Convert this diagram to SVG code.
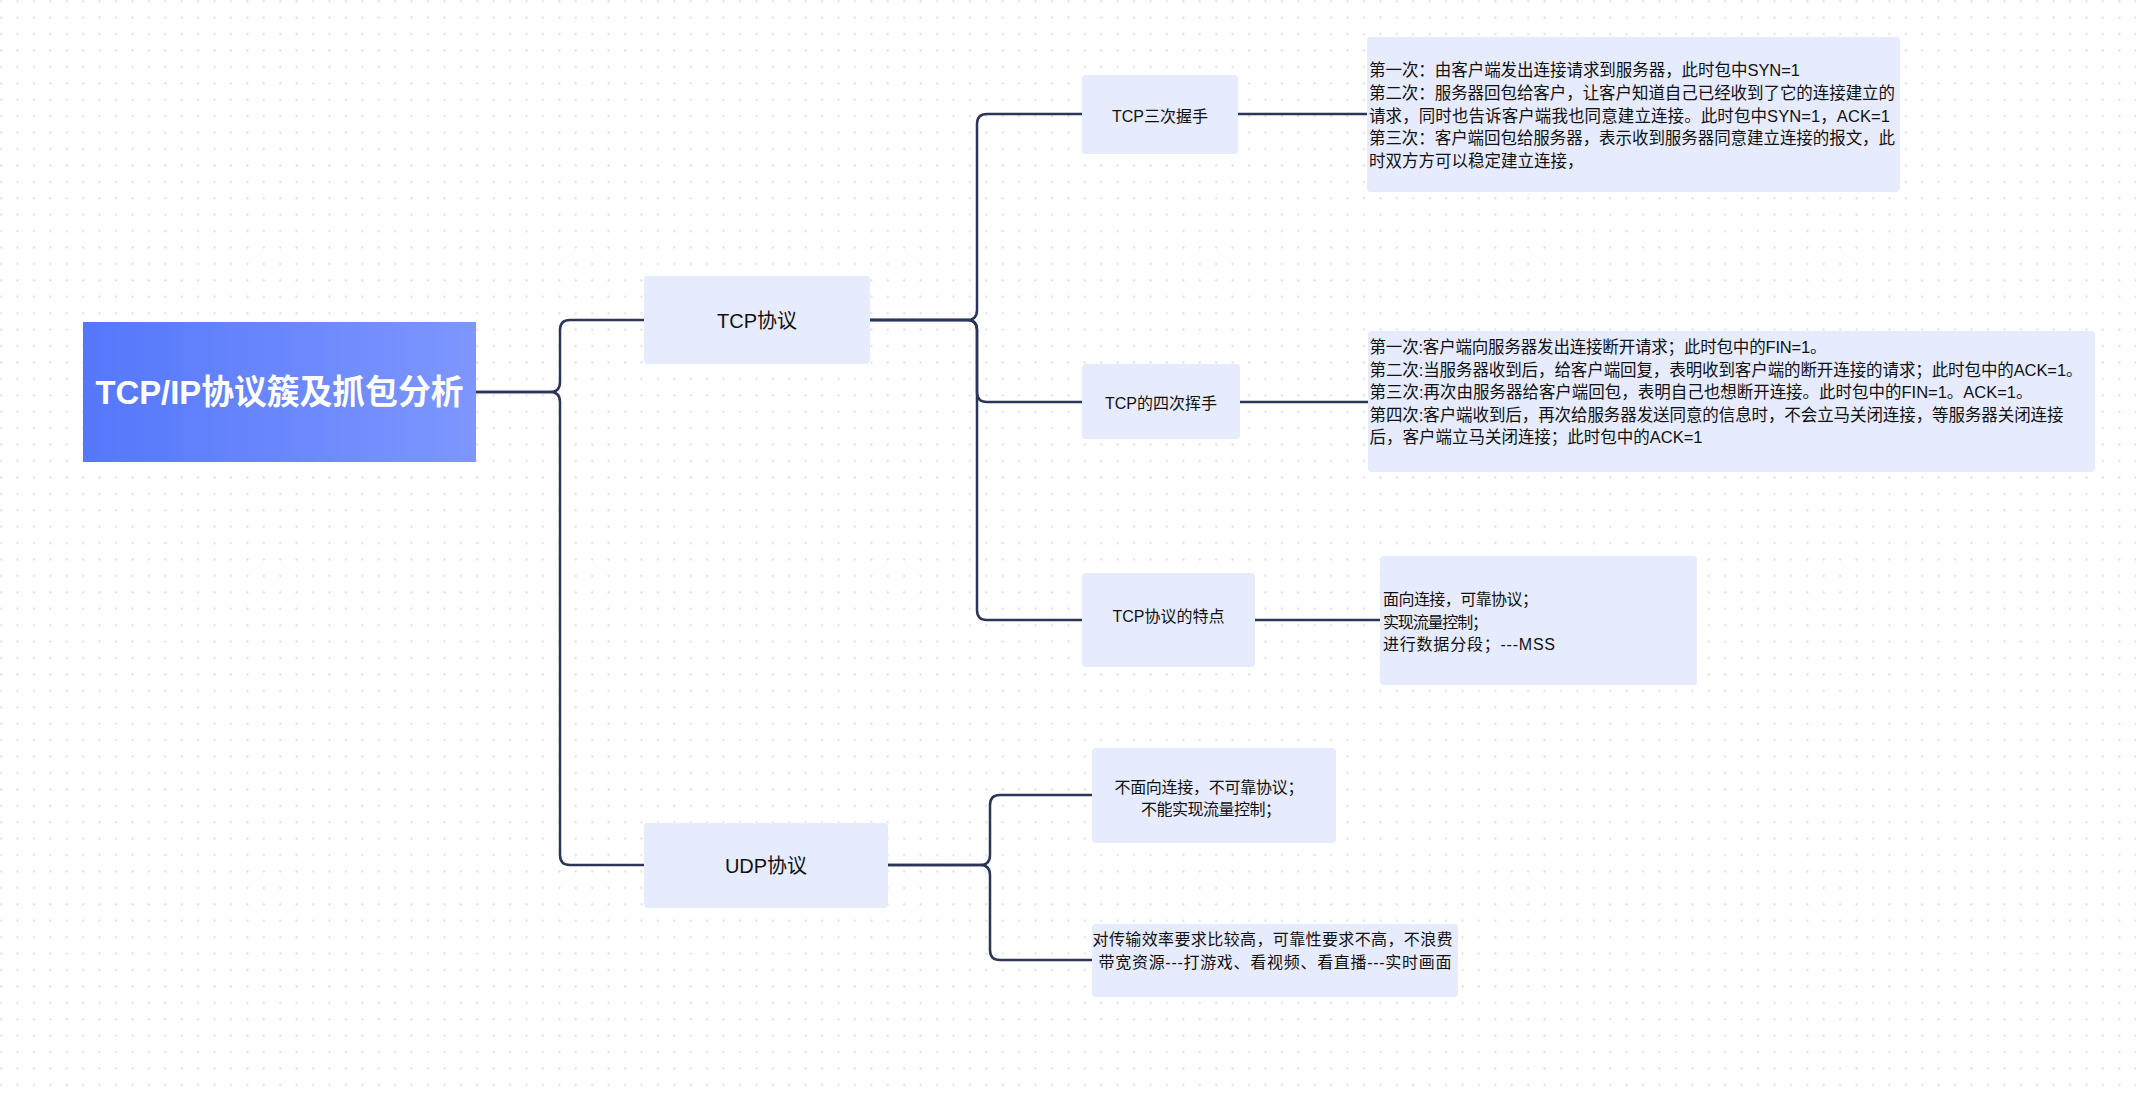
<svg xmlns="http://www.w3.org/2000/svg" width="2136" height="1094" viewBox="0 0 2136 1094">
<style>
.lbl{font-family:"Liberation Sans","Noto Sans CJK SC",sans-serif;fill:#111;}
.node{fill:#e6ebfd;}
.mid{text-anchor:middle;}
.conn path{fill:none;stroke:#2b3558;stroke-width:2.5;}
</style>
<defs>
<pattern id="dots" patternUnits="userSpaceOnUse" x="-7.11" y="-6.91" width="16.42" height="16.42">
<circle cx="8.21" cy="8.21" r="1.1" fill="#dedede"/>
</pattern>
<linearGradient id="rootg" x1="0" y1="0" x2="1" y2="0">
<stop offset="0" stop-color="#5477fb"/>
<stop offset="1" stop-color="#7e97fe"/>
</linearGradient>
</defs>
<rect x="0" y="0" width="2136" height="1094" fill="#ffffff"/>
<rect x="0" y="0" width="2136" height="1094" fill="url(#dots)"/>

<g class="conn" id="connectors">
<path d="M476,392 H550 Q560,392 560,382 V330 Q560,320 570,320 H644"/>
<path d="M476,392 H550 Q560,392 560,402 V855 Q560,865 570,865 H644"/>
<path d="M870,320 H967 Q977,320 977,310 V124 Q977,114 987,114 H1082"/>
<path d="M870,320 H967 Q977,320 977,330 V392 Q977,402 987,402 H1082"/>
<path d="M870,320 H967 Q977,320 977,330 V610 Q977,620 987,620 H1082"/>
<path d="M888,865 H980 Q990,865 990,855 V805 Q990,795 1000,795 H1092"/>
<path d="M888,865 H980 Q990,865 990,875 V950 Q990,960 1000,960 H1092"/>
<path d="M1238,114 H1367"/>
<path d="M1240,402 H1368"/>
<path d="M1255,620 H1380"/>
</g>

<g id="root">
<rect x="83" y="322" width="393" height="140" fill="url(#rootg)"/>
<text x="279.5" y="404" class="mid" font-family="'Liberation Sans','Noto Sans CJK SC',sans-serif" font-weight="bold" font-size="34" fill="#ffffff" textLength="368" lengthAdjust="spacingAndGlyphs">TCP/IP协议簇及抓包分析</text>
</g>

<g id="tcp">
<rect class="node" x="644" y="276" width="226" height="88" rx="4"/>
<text class="lbl mid" x="757" y="328" font-size="20">TCP协议</text>
</g>

<g id="udp">
<rect class="node" x="644" y="823" width="244" height="85" rx="4"/>
<text class="lbl mid" x="766" y="873" font-size="20">UDP协议</text>
</g>

<g id="tcp-3way">
<rect class="node" x="1082" y="75" width="156" height="79" rx="4"/>
<text class="lbl mid" x="1160" y="121.5" font-size="16">TCP三次握手</text>
</g>

<g id="tcp-4way">
<rect class="node" x="1082" y="364" width="158" height="75" rx="4"/>
<text class="lbl mid" x="1161" y="408.5" font-size="16">TCP的四次挥手</text>
</g>

<g id="tcp-feature">
<rect class="node" x="1082" y="573" width="173" height="94" rx="4"/>
<text class="lbl mid" x="1168.5" y="621.5" font-size="16">TCP协议的特点</text>
</g>

<g id="detail-3way">
<rect class="node" x="1367" y="37" width="533" height="155" rx="4"/>
<text class="lbl" font-size="16.5">
<tspan x="1369" y="76.3" textLength="431" lengthAdjust="spacing">第一次：由客户端发出连接请求到服务器，此时包中SYN=1</tspan>
<tspan x="1369" y="98.9" textLength="526" lengthAdjust="spacing">第二次：服务器回包给客户，让客户知道自己已经收到了它的连接建立的</tspan>
<tspan x="1369" y="121.6" textLength="521" lengthAdjust="spacing">请求，同时也告诉客户端我也同意建立连接。此时包中SYN=1，ACK=1</tspan>
<tspan x="1369" y="144.2" textLength="526" lengthAdjust="spacing">第三次：客户端回包给服务器，表示收到服务器同意建立连接的报文，此</tspan>
<tspan x="1369" y="166.9">时双方方可以稳定建立连接，</tspan>
</text>
</g>

<g id="detail-4way">
<rect class="node" x="1368" y="331" width="727" height="141" rx="4"/>
<text class="lbl" font-size="16.5">
<tspan x="1369.5" y="353.3" textLength="457" lengthAdjust="spacing">第一次:客户端向服务器发出连接断开请求；此时包中的FIN=1。</tspan>
<tspan x="1369.5" y="375.8" textLength="713" lengthAdjust="spacing">第二次:当服务器收到后，给客户端回复，表明收到客户端的断开连接的请求；此时包中的ACK=1。</tspan>
<tspan x="1369.5" y="398.3" textLength="663" lengthAdjust="spacing">第三次:再次由服务器给客户端回包，表明自己也想断开连接。此时包中的FIN=1。ACK=1。</tspan>
<tspan x="1369.5" y="420.8" textLength="694" lengthAdjust="spacing">第四次:客户端收到后，再次给服务器发送同意的信息时，不会立马关闭连接，等服务器关闭连接</tspan>
<tspan x="1369.5" y="443.3" textLength="333" lengthAdjust="spacing">后，客户端立马关闭连接；此时包中的ACK=1</tspan>
</text>
</g>

<g id="detail-feature">
<rect class="node" x="1380" y="556" width="317" height="129" rx="4"/>
<text class="lbl" font-size="16">
<tspan x="1383" y="605" textLength="155" lengthAdjust="spacing">面向连接，可靠协议；</tspan>
<tspan x="1383" y="627.5" textLength="105" lengthAdjust="spacing">实现流量控制；</tspan>
<tspan x="1383" y="650" textLength="172" lengthAdjust="spacing">进行数据分段；---MSS</tspan>
</text>
</g>

<g id="udp-feature">
<rect class="node" x="1092" y="748" width="244" height="95" rx="4"/>
<text class="lbl mid" font-size="16">
<tspan x="1211" y="793" textLength="189" lengthAdjust="spacing">不面向连接，不可靠协议；</tspan>
<tspan x="1211" y="815.3" textLength="140" lengthAdjust="spacing">不能实现流量控制；</tspan>
</text>
</g>

<g id="udp-usage">
<rect class="node" x="1092" y="924" width="366" height="73" rx="4"/>
<text class="lbl mid" font-size="16">
<tspan x="1275" y="945.3" textLength="360" lengthAdjust="spacing">对传输效率要求比较高，可靠性要求不高，不浪费</tspan>
<tspan x="1275" y="967.7" textLength="353" lengthAdjust="spacing">带宽资源---打游戏、看视频、看直播---实时画面</tspan>
</text>
</g>
</svg>
